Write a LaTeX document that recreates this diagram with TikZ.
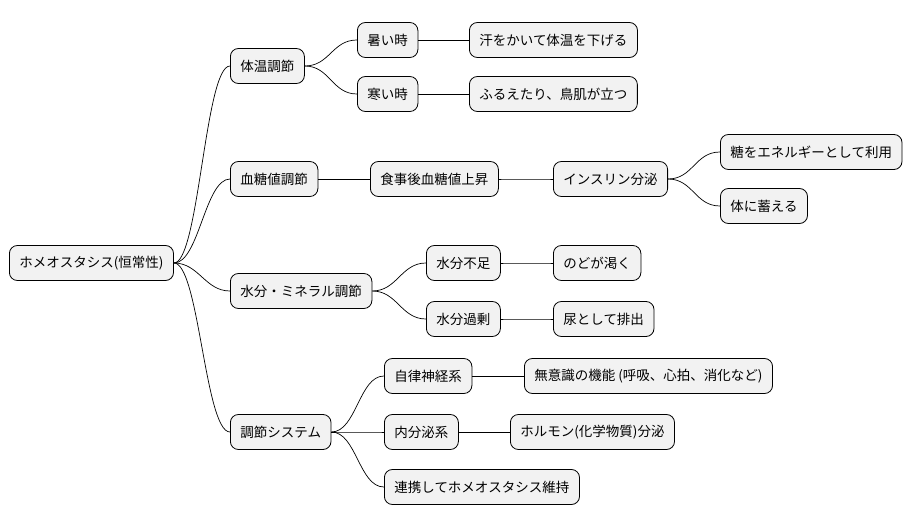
\documentclass[tikz,border=0pt]{standalone}
\usepackage{fontspec}
\setmainfont{Noto Sans CJK JP}
\begin{document}
\begin{tikzpicture}[x=1pt,y=-1pt,
  box/.style={draw=black,fill=gray!10,rounded corners=8pt,line width=0.8pt,
    minimum height=35pt,inner xsep=10pt,inner ysep=0pt,anchor=west,
    font=\fontsize{13.5}{16}\selectfont},
  link/.style={draw=black,line width=0.7pt}]
\useasboundingbox (0,0) rectangle (919,527);
\node[box] (root) at (9,263) {ホメオスタシス(恒常性)};
\node[box] (a) at (230,66) {体温調節};
\node[box] (a1) at (357,40) {暑い時};
\node[box] (a11) at (469,40) {汗をかいて体温を下げる};
\node[box] (a2) at (357,94) {寒い時};
\node[box] (a21) at (469,94) {ふるえたり、鳥肌が立つ};
\node[box] (b) at (230,179) {血糖値調節};
\node[box] (b1) at (370,179) {食事後血糖値上昇};
\node[box] (b2) at (553,179) {インスリン分泌};
\node[box] (b3) at (720,152) {糖をエネルギーとして利用};
\node[box] (b4) at (720,206) {体に蓄える};
\node[box] (c) at (230,291) {水分・ミネラル調節};
\node[box] (c1) at (426,263) {水分不足};
\node[box] (c11) at (553,263) {のどが渇く};
\node[box] (c2) at (426,319) {水分過剰};
\node[box] (c21) at (553,319) {尿として排出};
\node[box] (d) at (230,432) {調節システム};
\node[box] (d1) at (384,376) {自律神経系};
\node[box] (d11) at (524,376) {無意識の機能 (呼吸、心拍、消化など)};
\node[box] (d2) at (384,432) {内分泌系};
\node[box] (d21) at (510,432) {ホルモン(化学物質)分泌};
\node[box] (d3) at (384,487) {連携してホメオスタシス維持};
\foreach \p/\c in {root/a,root/b,root/c,root/d,a/a1,a/a2,a1/a11,a2/a21,b/b1,b1/b2,b2/b3,b2/b4,c/c1,c/c2,c1/c11,c2/c21,d/d1,d/d2,d/d3,d1/d11,d2/d21}
  \draw[link] (\p.east) .. controls +(25,0) and +(-25,0) .. (\c.west);
\end{tikzpicture}
\end{document}
